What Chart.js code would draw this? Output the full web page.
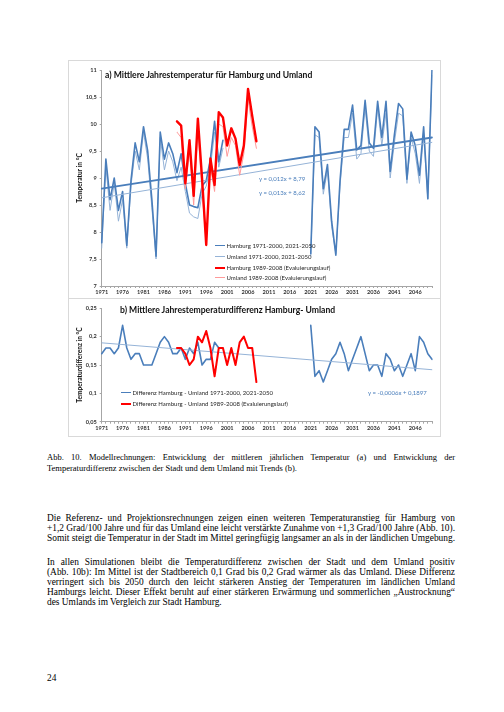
<!DOCTYPE html>
<html>
<head>
<meta charset="utf-8">
<script src="https://cdn.jsdelivr.net/npm/chart.js@4.4.0/dist/chart.umd.min.js"></script>
<style>
  body { margin: 0; width: 504px; height: 712px; background: #fff; position: relative; overflow: hidden; font-family: 'Liberation Serif', 'Times New Roman', serif; color: #000; }
  .cv { position: absolute; left: 68px; width: 373px; }
  .frame { position: absolute; left: 68px; width: 373px; border: 1px solid #d9d9d9; box-sizing: border-box; pointer-events: none; }
  .lbl { position: absolute; white-space: nowrap; font-family: Lato, sans-serif; line-height: 10px; color: #262626; }
  .ttl { font-weight: bold; font-size: 8.6px; color: #111; }
  .leg { font-size: 6px; }
  .leg i { display: inline-block; width: 10px; vertical-align: middle; margin-right: 1.5px; position: relative; top: -0.5px; }
  .eq { font-size: 6px; color: #4a7ebb; }
  .txt { position: absolute; left: 47px; width: 408px; }
  .txt div { white-space: nowrap; overflow: visible; }
  .txt div.j { text-align: justify; text-align-last: justify; white-space: normal; word-spacing: -2px; height: 1em; line-height: inherit; }
</style>
</head>
<body>

<div class="cv" style="top:60px;height:238px;"><canvas id="chartA" width="373" height="238"></canvas></div>
<div class="cv" style="top:298px;height:139px;"><canvas id="chartB" width="373" height="139"></canvas></div>
<div class="frame" style="top:60px;height:239px;"></div>
<div class="frame" style="top:298px;height:139px;"></div>

<!-- Titel, Legenden und Trendgleichungen in den Diagrammen -->
<div class="lbl ttl" style="left:105px;top:70px;">a) Mittlere Jahrestemperatur für Hamburg und Umland</div>
<div class="lbl leg" style="left:215px;top:241px;"><i style="border-top:1.6px solid #4a7ebb"></i>Hamburg 1971-2000, 2021-2050</div>
<div class="lbl leg" style="left:215px;top:251.7px;"><i style="border-top:1px solid #95b3d7"></i>Umland 1971-2000, 2021-2050</div>
<div class="lbl leg" style="left:215px;top:262.7px;"><i style="border-top:2.4px solid #ff0000"></i>Hamburg 1989-2008 (Evaluierungslauf)</div>
<div class="lbl leg" style="left:215px;top:272.7px;"><i style="border-top:1px solid #ff9a9a"></i>Umland 1989-2008 (Evaluierungslauf)</div>
<div class="lbl eq" style="left:259px;top:174px;">y = 0,012x + 8,79</div>
<div class="lbl eq" style="left:259px;top:187.7px;">y = 0,013x + 8,62</div>

<div class="lbl ttl" style="left:120px;top:305px;">b) Mittlere Jahrestemperaturdifferenz Hamburg- Umland</div>
<div class="lbl leg" style="left:121px;top:387.7px;"><i style="border-top:1.6px solid #4a7ebb"></i>Differenz Hamburg - Umland 1971-2000, 2021-2050</div>
<div class="lbl leg" style="left:121px;top:399px;"><i style="border-top:2px solid #ff0000"></i>Differenz Hamburg - Umland 1989-2008 (Evaluierungslauf)</div>
<div class="lbl eq" style="left:368px;top:387.7px;">y = -0,0006x + 0,1897</div>

<!-- Seitentext -->
<div class="txt" style="top:451.5px;font-size:8.5px;line-height:11px;">
  <div class="j" style="height:11px">Abb. 10. Modellrechnungen: Entwicklung der mittleren jährlichen Temperatur (a) und Entwicklung der</div>
  <div>Temperaturdifferenz zwischen der Stadt und dem Umland mit Trends (b).</div>
</div>
<div class="txt" style="top:513px;font-size:9.4px;line-height:10px;">
  <div class="j" style="height:10px">Die Referenz- und Projektionsrechnungen zeigen einen weiteren Temperaturanstieg für Hamburg von</div>
  <div class="j" style="height:10px">+1,2 Grad/100 Jahre und für das Umland eine leicht verstärkte Zunahme von +1,3 Grad/100 Jahre (Abb. 10).</div>
  <div class="j" style="height:10px">Somit steigt die Temperatur in der Stadt im Mittel geringfügig langsamer an als in der ländlichen Umgebung.</div>
</div>
<div class="txt" style="top:557px;font-size:9.4px;line-height:10px;">
  <div class="j" style="height:10px">In allen Simulationen bleibt die Temperaturdifferenz zwischen der Stadt und dem Umland positiv</div>
  <div class="j" style="height:10px">(Abb. 10b): Im Mittel ist der Stadtbereich 0,1 Grad bis 0,2 Grad wärmer als das Umland. Diese Differenz</div>
  <div class="j" style="height:10px">verringert sich bis 2050 durch den leicht stärkeren Anstieg der Temperaturen im ländlichen Umland</div>
  <div class="j" style="height:10px">Hamburgs leicht. Dieser Effekt beruht auf einer stärkeren Erwärmung und sommerlichen „Austrocknung“</div>
  <div>des Umlands im Vergleich zur Stadt Hamburg.</div>
</div>
<div class="txt" style="top:673px;font-size:9.4px;line-height:10px;">24</div>

<script>
// Jahre 1971-2050 (Kategorieachse)
const years = [];
for (let y = 1971; y <= 2050; y++) years.push(String(y));

// a) Jahresmitteltemperatur in °C
const hamburgRef  = [7.8, 9.35, 8.6, 9.0, 8.4, 8.75, 7.75, 8.95, 9.65, 9.3, 9.95, 9.5, 8.6, 7.55, 9.85, 9.35, 9.65, 9.45, 9.1, 9.45, 8.9, 8.5, 8.47, 8.45, 8.85, 8.95, 9.35, 10.05, 9.3, 9.7];       // 1971-2000
const umlandRef   = [7.7, 9.2, 8.4, 8.9, 8.2, 8.6, 7.7, 8.85, 9.5, 9.15, 9.85, 9.35, 8.45, 7.5, 9.75, 9.15, 9.5, 9.3, 8.95, 9.2, 8.75, 8.35, 8.28, 8.25, 8.7, 8.85, 9.2, 9.85, 9.2, 9.55];        // 1971-2000
const hamburgProj = [7.6, 9.95, 9.85, 8.8, 9.25, 8.2, 7.57, 8.95, 9.9, 9.9, 10.35, 9.52, 9.6, 10.44, 9.65, 9.55, 10.42, 9.75, 10.42, 9.12, 9.8, 10.38, 10.28, 8.98, 9.85, 9.6, 9.05, 9.95, 8.62, 11.0]; // 2021-2050
const umlandProj  = [7.55, 9.8, 9.75, 8.7, 9.15, 8.1, 7.6, 8.85, 9.75, 9.75, 10.2, 9.35, 9.45, 10.3, 9.5, 9.4, 10.3, 9.6, 10.2, 9.0, 9.65, 10.2, 10.15, 8.9, 9.75, 9.45, 8.9, 9.8, 8.6, 10.9];      // 2021-2050
const hamburgEval = [10.05, 9.97, 8.9, 9.7, 8.67, 10.1, 9.0, 7.76, 9.36, 8.87, 10.22, 10.12, 9.6, 9.92, 9.73, 9.24, 9.6, 10.65, 10.15, 9.68]; // 1989-2008
const umlandEval  = [9.85, 9.75, 8.8, 9.5, 8.5, 9.9, 8.75, 7.8, 9.2, 8.75, 10.0, 9.95, 9.4, 9.75, 9.6, 9.05, 9.45, 10.45, 9.95, 9.55];     // 1989-2008

// b) Differenz Hamburg - Umland in °C
const diffRef  = [0.17, 0.18, 0.18, 0.17, 0.18, 0.22, 0.18, 0.16, 0.17, 0.17, 0.15, 0.15, 0.15, 0.17, 0.19, 0.2, 0.19, 0.17, 0.17, 0.18, 0.16, 0.18, 0.17, 0.19, 0.15, 0.16, 0.16, 0.19, 0.18, 0.18]; // 1971-2000
const diffProj = [0.22, 0.13, 0.14, 0.12, 0.14, 0.16, 0.17, 0.19, 0.17, 0.14, 0.16, 0.18, 0.2, 0.17, 0.14, 0.15, 0.15, 0.13, 0.17, 0.16, 0.14, 0.15, 0.13, 0.15, 0.17, 0.14, 0.2, 0.19, 0.17, 0.16]; // 2021-2050
const diffEval = [0.18, 0.18, 0.17, 0.15, 0.16, 0.2, 0.19, 0.21, 0.18, 0.13, 0.18, 0.18, 0.15, 0.18, 0.15, 0.19, 0.2, 0.18, 0.18, 0.12]; // 1989-2008

// Trends [Steigung, Achsenabschnitt], x = 1 .. 80
const trendHamburg = [0.012, 8.79];
const trendUmland  = [0.013, 8.62];
const trendDiff    = [-0.0006, 0.1897];

// Tickbeschriftungen
const yTicksA = [7, 7.5, 8, 8.5, 9, 9.5, 10, 10.5, 11];
const yTicksB = [0.05, 0.1, 0.15, 0.2, 0.25];

function place(parts) {
  const out = years.map(() => null);
  parts.forEach(([start, vals]) => vals.forEach((v, i) => { out[start - 1971 + i] = v; }));
  return out;
}
function trendPoints(t) {
  return [{ x: years[0], y: t[0] * 1 + t[1] }, { x: years[years.length - 1], y: t[0] * years.length + t[1] }];
}
const comma = v => String(+v.toFixed(2)).replace('.', ',');

function makeOptions(ticks, topPad, bottomH, title, titlePad) {
  return {
    responsive: false,
    animation: false,
    events: [],
    layout: { padding: { left: 0, right: 9, top: topPad, bottom: 0 } },
    elements: { point: { radius: 0 }, line: { tension: 0, borderCapStyle: 'round', borderJoinStyle: 'round' } },
    plugins: { legend: { display: false }, tooltip: { enabled: false } },
    scales: {
      x: {
        type: 'category',
        offset: false,
        afterFit: s => { s.height = bottomH; },
        border: { color: '#a6a6a6' },
        grid: { drawOnChartArea: false, tickLength: 2, color: '#a6a6a6' },
        ticks: {
          autoSkip: false, maxRotation: 0, padding: 1,
          color: '#333', font: { family: 'Lato', size: 5.6, weight: 'bold' },
          callback: (v, i) => (i % 5 === 0 ? years[i] : '')
        }
      },
      y: {
        min: ticks[0], max: ticks[ticks.length - 1],
        afterFit: s => { s.width = 33.7; },
        afterBuildTicks: s => { s.ticks = ticks.map(v => ({ value: v })); },
        border: { color: '#a6a6a6' },
        grid: { drawOnChartArea: false, tickLength: 2, color: '#a6a6a6' },
        ticks: { padding: 3, color: '#333', font: { family: 'Lato', size: 5.6, weight: 'bold' }, callback: v => comma(v) },
        title: { display: true, text: title, color: '#111', padding: { top: titlePad, bottom: 0 }, font: { family: 'Lato', size: 6.6, weight: 'bold' } }
      }
    }
  };
}

new Chart(document.getElementById('chartA'), {
  type: 'line',
  data: {
    labels: years,
    datasets: [
      { label: 'Hamburg 1989-2008 (Evaluierungslauf)', data: place([[1989, hamburgEval]]), borderColor: '#ff0000', borderWidth: 2.4, order: 0 },
      { label: 'Umland 1989-2008 (Evaluierungslauf)', data: place([[1989, umlandEval]]), borderColor: '#ff9a9a', borderWidth: 1, order: 1 },
      { label: 'Trend Hamburg', data: trendPoints(trendHamburg), borderColor: '#4a7ebb', borderWidth: 1.8, order: 2 },
      { label: 'Trend Umland', data: trendPoints(trendUmland), borderColor: '#95b3d7', borderWidth: 1, order: 3 },
      { label: 'Hamburg 1971-2000, 2021-2050', data: place([[1971, hamburgRef], [2021, hamburgProj]]), borderColor: '#4a7ebb', borderWidth: 1.6, order: 4 },
      { label: 'Umland 1971-2000, 2021-2050', data: place([[1971, umlandRef], [2021, umlandProj]]), borderColor: '#95b3d7', borderWidth: 1, order: 5 }
    ]
  },
  options: makeOptions(yTicksA, 10, 12, 'Temperatur in °C', 8)
});

new Chart(document.getElementById('chartB'), {
  type: 'line',
  data: {
    labels: years,
    datasets: [
      { label: 'Differenz Hamburg - Umland 1989-2008 (Evaluierungslauf)', data: place([[1989, diffEval]]), borderColor: '#ff0000', borderWidth: 2, order: 0 },
      { label: 'Trend', data: trendPoints(trendDiff), borderColor: '#95b3d7', borderWidth: 1, order: 1 },
      { label: 'Differenz Hamburg - Umland 1971-2000, 2021-2050', data: place([[1971, diffRef], [2021, diffProj]]), borderColor: '#4a7ebb', borderWidth: 1.6, order: 2 }
    ]
  },
  options: makeOptions(yTicksB, 10.3, 15.3, 'Temperaturdifferenz in °C', 8)
});
</script>
</body>
</html>
